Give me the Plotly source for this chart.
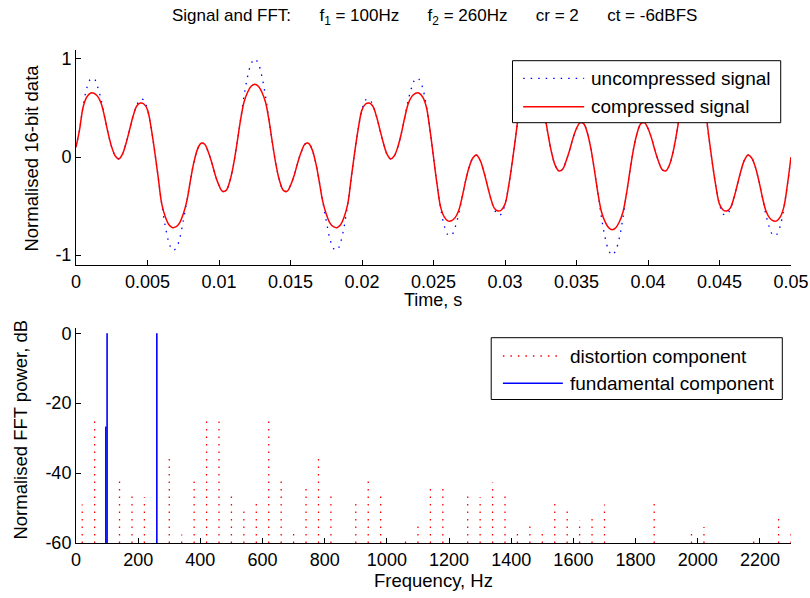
import numpy as np
import plotly.graph_objects as go

# ---------------- data ----------------
time_s = np.linspace(0, 0.05, 201)

uncompressed = [
    0.10, 0.28, 0.52, 0.70, 0.79, 0.80, 0.72, 0.59, 0.41, 0.24,
    0.10, 0.01, -0.02, 0.03, 0.14, 0.28, 0.42, 0.53, 0.59, 0.58,
    0.48, 0.30, 0.06, -0.21, -0.48, -0.71, -0.87, -0.95, -0.93, -0.83,
    -0.65, -0.45, -0.24, -0.05, 0.08, 0.14, 0.13, 0.05, -0.06, -0.19,
    -0.29, -0.35, -0.34, -0.25, -0.09, 0.13, 0.37, 0.62, 0.82, 0.95,
    1.00,
    0.95, 0.82, 0.62, 0.37, 0.13, -0.09, -0.25, -0.34, -0.35, -0.29,
    -0.19, -0.06, 0.05, 0.13, 0.14, 0.08, -0.05, -0.24, -0.45, -0.65,
    -0.83, -0.93, -0.95, -0.87, -0.71, -0.48, -0.21, 0.06, 0.30, 0.48,
    0.58, 0.59, 0.53, 0.42, 0.28, 0.14, 0.03, -0.02, 0.01, 0.10,
    0.24, 0.41, 0.59, 0.72, 0.80, 0.79, 0.70, 0.52, 0.28, 0.00,
    -0.28, -0.52, -0.70, -0.79, -0.80, -0.72, -0.59, -0.41, -0.24, -0.10,
    -0.01, 0.02, -0.03, -0.14, -0.28, -0.42, -0.53, -0.59, -0.58, -0.48,
    -0.30, -0.06, 0.21, 0.48, 0.71, 0.87, 0.95, 0.93, 0.83, 0.65,
    0.45, 0.24, 0.05, -0.08, -0.14, -0.13, -0.05, 0.06, 0.19, 0.29,
    0.35, 0.34, 0.25, 0.09, -0.13, -0.37, -0.62, -0.82, -0.95, -1.00,
    -0.95, -0.82, -0.62, -0.37, -0.13, 0.09, 0.25, 0.34, 0.35, 0.29,
    0.19, 0.06, -0.05, -0.13, -0.14, -0.08, 0.05, 0.24, 0.45, 0.65,
    0.83, 0.93, 0.95, 0.87, 0.71, 0.48, 0.21, -0.06, -0.30, -0.48,
    -0.58, -0.59, -0.53, -0.42, -0.28, -0.14, -0.03, 0.02, -0.01, -0.10,
    -0.24, -0.41, -0.59, -0.72, -0.80, -0.79, -0.70, -0.52, -0.28, 0.00,
]

compressed = [
    0.10, 0.28, 0.51, 0.61, 0.65, 0.65, 0.62, 0.55, 0.41, 0.24,
    0.10, 0.01, -0.02, 0.03, 0.14, 0.28, 0.42, 0.52, 0.55, 0.54,
    0.48, 0.30, 0.06, -0.21, -0.48, -0.61, -0.69, -0.72, -0.71, -0.67,
    -0.58, -0.45, -0.24, -0.05, 0.08, 0.14, 0.13, 0.05, -0.06, -0.19,
    -0.29, -0.35, -0.34, -0.25, -0.09, 0.13, 0.37, 0.56, 0.66, 0.72,
    0.74,
    0.72, 0.66, 0.56, 0.37, 0.13, -0.09, -0.25, -0.34, -0.35, -0.29,
    -0.19, -0.06, 0.05, 0.13, 0.14, 0.08, -0.05, -0.24, -0.45, -0.58,
    -0.67, -0.71, -0.72, -0.69, -0.61, -0.48, -0.21, 0.06, 0.30, 0.48,
    0.54, 0.55, 0.52, 0.42, 0.28, 0.14, 0.03, -0.02, 0.01, 0.10,
    0.24, 0.41, 0.55, 0.62, 0.65, 0.65, 0.61, 0.51, 0.28, 0.00,
    -0.28, -0.51, -0.61, -0.65, -0.65, -0.62, -0.55, -0.41, -0.24, -0.10,
    -0.01, 0.02, -0.03, -0.14, -0.28, -0.42, -0.52, -0.55, -0.54, -0.48,
    -0.30, -0.06, 0.21, 0.48, 0.61, 0.69, 0.72, 0.71, 0.67, 0.58,
    0.45, 0.24, 0.05, -0.08, -0.14, -0.13, -0.05, 0.06, 0.19, 0.29,
    0.35, 0.34, 0.25, 0.09, -0.13, -0.37, -0.56, -0.66, -0.72, -0.74,
    -0.72, -0.66, -0.56, -0.37, -0.13, 0.09, 0.25, 0.34, 0.35, 0.29,
    0.19, 0.06, -0.05, -0.13, -0.14, -0.08, 0.05, 0.24, 0.45, 0.58,
    0.67, 0.71, 0.72, 0.69, 0.61, 0.48, 0.21, -0.06, -0.30, -0.48,
    -0.54, -0.55, -0.52, -0.42, -0.28, -0.14, -0.03, 0.02, -0.01, -0.10,
    -0.24, -0.41, -0.55, -0.62, -0.65, -0.65, -0.61, -0.51, -0.28, 0.00,
]

dist_freq = [20, 60, 140, 180, 220, 300, 340, 380, 420, 460,
             500, 540, 580, 620, 660, 700, 740, 780, 820, 900,
             940, 980, 1060, 1100, 1140, 1180, 1260, 1300, 1340, 1380,
             1420, 1460, 1500, 1540, 1580, 1620, 1660, 1700, 1860, 1980,
             2020, 2180, 2260, 2300]
dist_db = [-49, -24, -42.4, -46.2, -46.9, -34.3, -57.6, -42.4, -24, -24.3,
           -46.2, -49.5, -47.4, -25, -42.4, -55.9, -43, -34.3, -45.5, -48.6,
           -41, -45.5, -57.9, -54.9, -43, -44, -46.5, -46.9, -42.7, -45.9,
           -56.2, -54.9, -57.1, -47.3, -50.3, -53.5, -51.4, -49, -48.1, -56.2,
           -55.4, -59.5, -52.9, -55.7]

fund_freq = [96, 100, 260]
fund_db = [-26.7, 0, 0]

time_ticks = [0, 0.005, 0.01, 0.015, 0.02, 0.025, 0.03, 0.035, 0.04, 0.045, 0.05]
time_tick_labels = ["0", "0.005", "0.01", "0.015", "0.02", "0.025", "0.03",
                    "0.035", "0.04", "0.045", "0.05"]
sig_ticks = [-1, 0, 1]
sig_tick_labels = ["-1", "0", "1"]
freq_ticks = [0, 200, 400, 600, 800, 1000, 1200, 1400, 1600, 1800, 2000, 2200]
freq_tick_labels = [str(v) for v in freq_ticks]
db_ticks = [-60, -40, -20, 0]
db_tick_labels = ["-60", "-40", "-20", "0"]

FLOOR_DB = -60

# ---------------- styling ----------------
FONT = "Liberation Sans, Arial, sans-serif"
FS = 18
BLACK = "#000000"
DOT = "1.5px,6px"

def stems(xs, tops, base):
    X, Y = [], []
    for x, t in zip(xs, tops):
        X += [x, x, None]
        Y += [base, t, None]
    return X, Y

fig = go.Figure()

fig.add_trace(go.Scatter(x=time_s, y=uncompressed, mode="lines",
                         line=dict(color="#0000ff", width=1.3, dash=DOT, shape="spline"),
                         xaxis="x", yaxis="y", showlegend=False,
                         name="uncompressed signal"))
fig.add_trace(go.Scatter(x=time_s, y=compressed, mode="lines",
                         line=dict(color="#ff0000", width=1.5, shape="spline"),
                         xaxis="x", yaxis="y", showlegend=False,
                         name="compressed signal"))

dx, dy = stems(dist_freq, dist_db, FLOOR_DB)
fig.add_trace(go.Scatter(x=dx, y=dy, mode="lines",
                         line=dict(color="#ff0000", width=1.3, dash=DOT),
                         xaxis="x2", yaxis="y2", showlegend=False,
                         name="distortion component"))
fx, fy = stems(fund_freq, fund_db, FLOOR_DB)
fig.add_trace(go.Scatter(x=fx, y=fy, mode="lines",
                         line=dict(color="#0000ff", width=1.6),
                         xaxis="x2", yaxis="y2", showlegend=False,
                         name="fundamental component"))

# plot-area geometry in pixels
PL, PR, PT, PB = 75.5, 791.0, 50.0, 543.0
W, H = 810, 598

def px(X):
    return (X - PL) / (PR - PL)

def py(Y):
    return (PB - Y) / (PB - PT)

axis_common = dict(showline=True, linecolor=BLACK, linewidth=1, showgrid=False,
                   zeroline=False, ticks="inside", ticklen=5, tickwidth=1,
                   tickcolor=BLACK, tickfont=dict(family=FONT, size=FS, color=BLACK),
                   mirror=False, automargin=False)

fig.update_layout(
    width=W, height=H, autosize=False,
    margin=dict(l=PL, r=W - PR, t=PT, b=H - PB, pad=0),
    paper_bgcolor="white", plot_bgcolor="white",
    showlegend=False, hovermode=False,
    xaxis=dict(domain=[0, 1], anchor="y", range=[0, 0.05],
               tickvals=time_ticks, ticktext=time_tick_labels, **axis_common),
    yaxis=dict(domain=[py(265), 1], anchor="x", range=[-1.1, 1.09],
               tickvals=sig_ticks, ticktext=sig_tick_labels, **axis_common),
    xaxis2=dict(domain=[0, 1], anchor="y2", range=[0, 2300],
                tickvals=freq_ticks, ticktext=freq_tick_labels, **axis_common),
    yaxis2=dict(domain=[0, py(328)], anchor="x2", range=[-60, 1.5],
                tickvals=db_ticks, ticktext=db_tick_labels, **axis_common),
)

shapes = []
annotations = []

def text(X, Y, s, anchor="left", angle=0, size=FS):
    annotations.append(dict(x=px(X), y=py(Y), xref="paper", yref="paper",
                            text=s, showarrow=False, xanchor=anchor, yanchor="middle",
                            textangle=angle,
                            font=dict(family=FONT, size=size, color=BLACK)))

# title
SP = "&nbsp;" * 6
text(434, 17, "Signal and FFT:" + SP + "f<sub>1</sub> = 100Hz" + SP +
     "f<sub>2</sub> = 260Hz" + SP + "cr = 2" + SP + "ct = -6dBFS",
     anchor="center", size=17)

# axis titles
text(433, 300, "Time, s", anchor="center", size=18)
text(433, 580, "Frequency, Hz", anchor="center", size=18.5)
text(30, 158, "Normalised 16-bit data", anchor="center", angle=-90, size=18.5)
text(20, 430, "Normalised FFT power, dB", anchor="center", angle=-90, size=18.5)

# legends
def legend_box(x0, y0, x1, y1):
    shapes.append(dict(type="rect", xref="paper", yref="paper",
                       x0=px(x0), x1=px(x1), y0=py(y1), y1=py(y0),
                       line=dict(color=BLACK, width=1), fillcolor="white",
                       layer="above"))

def legend_line(x0, x1, y, color, dash, width):
    shapes.append(dict(type="line", xref="paper", yref="paper",
                       x0=px(x0), x1=px(x1), y0=py(y), y1=py(y),
                       line=dict(color=color, width=width, dash=dash),
                       layer="above"))

LFS = 19
legend_box(512.3, 60.7, 780.7, 122.7)
legend_line(523, 584, 78.3, "#0000ff", DOT, 1.3)
legend_line(523, 584, 106.7, "#ff0000", "solid", 1.5)
text(589, 78.3, "uncompressed signal", size=LFS)
text(589, 106.7, "compressed signal", size=LFS)

legend_box(491, 337.7, 782.3, 399.5)
legend_line(502.7, 562.7, 356, "#ff0000", DOT, 1.3)
legend_line(502.7, 562.7, 383.3, "#0000ff", "solid", 1.6)
text(568.3, 356, "distortion component", size=LFS)
text(568.3, 383.3, "fundamental component", size=LFS)

fig.update_layout(shapes=shapes, annotations=annotations)

fig.write_html("out.html",
               config={"displayModeBar": False, "staticPlot": True},
               post_script="document.body.style.margin='0';document.body.style.overflow='hidden';")
